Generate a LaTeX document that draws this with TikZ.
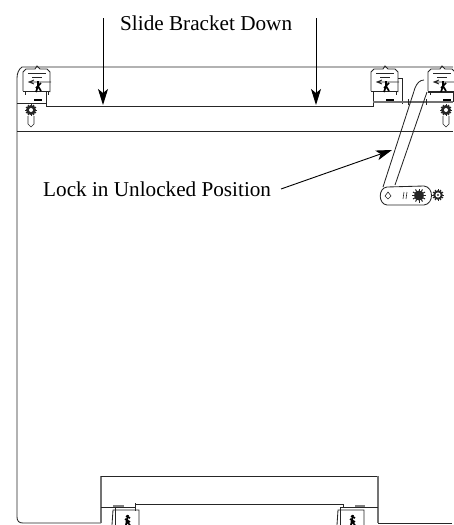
\documentclass[tikz,border=0pt]{standalone}
\usepackage{fontspec}
\setmainfont{Liberation Serif}
\usetikzlibrary{arrows.meta,shapes.geometric}
\tikzset{
  ln/.style={line width=0.85pt,draw=black!85},
  thin ln/.style={line width=0.6pt,draw=black!85},
  grey ln/.style={line width=1.1pt,draw=black!55},
  call/.style={line width=0.9pt,-{Stealth[length=16pt,width=10pt,inset=4pt]}},
  lab/.style={font=\fontsize{21.2pt}{24pt}\selectfont,inner sep=0pt,anchor=west},
  gear/.style={line width=1pt,draw=black!85},
  latch/.pic={
    \draw[ln] (-14,12) -- (-14,-7) -- (-11,-10) -- (-2,-10) -- (0,-13) -- (3,-10) -- (10,-10) -- (13,-7) -- (13,13);
    \draw[ln] (-14,12) -- (13,12);
    \draw[thin ln] (-9,-6) -- (9,-6) (-5,-2) -- (5,-2);
    \draw[ln] (-9,3) -- (14,3) (-3,1) -- (-8,3) -- (-3,5);
    \draw[line width=1.7pt] (1,2) -- (1,7) -- (-1,13) (1,7) -- (4,12) (4,4) -- (-1,9);
    \draw[thin ln] (-12,12) -- (-12,16) (11,12) -- (11,16);
  },
  bolt/.pic={
    \foreach \a in {0,30,...,330} \draw[line width=1pt,black!85] (0,0) -- (\a:5.8);
    \fill[black!85] (0,0) circle (5);
    \fill[white] (0,0) circle (2);
    \draw[thin ln] (-3,6) -- (-3,14) -- (0,17) -- (3,14) -- (3,6);
  },
  blatch/.pic={
    \draw[ln] (-14,15) -- (-13,0) -- (13,0) -- (13,15);
    \draw[ln] (-11,15) -- (-11,-3) -- (-2,-3);
    \draw[line width=1.7pt] (0,15) -- (2,5) (-1,9) -- (4,12) (0,11) -- (4,15) (0,6) -- (4,8);
  }
}
\begin{document}
\begin{tikzpicture}[x=1pt,y=-1pt]
\useasboundingbox (0,0) rectangle (453,525);
% frame
\coordinate (tl) at (22,67); \coordinate (tr) at (453,67);
\draw[ln] (tr) -- (tl) .. controls (19,69) and (17,73) .. (17,78) -- (17,517) .. controls (17,521) and (19,523) .. (23,523) -- (101,523);
\draw[grey ln] (101,476) -- (101,523);
\draw[ln] (101,476) -- (378,476);
\draw[grey ln] (378,476) -- (378,523);
\draw[ln] (378,523) -- (452,523);
\draw[ln] (17,131) -- (453,131);
% slide bracket
\draw[ln] (17,103) -- (46,103);
\draw[ln] (46,92) -- (46,106) -- (373,106) -- (373,92);
\draw[ln] (398,78) -- (402,78) -- (402,104);
\draw[grey ln] (373,102) -- (453,102);
% latches
\pic at (37,79) {latch};
\pic at (385,79) {latch};
\pic at (442,79) {latch};
\pic at (31,110) {bolt};
\pic at (446,110) {bolt};
\draw[line width=2pt,black!60] (408,102) -- (426,102);
\draw[ln] (408,99) -- (408,105) (426,99) -- (426,105);
\draw[ln] (428,92) -- (453,92) (453,92) -- (453,102);
\draw[line width=1.5pt] (34,100) -- (42,100) (386,100) -- (394,100) (443,100) -- (451,100);
% bottom latches
\draw[ln] (101,507) -- (135,507) (135,503) -- (135,511);
\draw[ln] (135,504) -- (343,504) (343,504) -- (343,507) -- (378,507);
\draw[line width=2pt,black!50] (113,506) -- (124,506);
\draw[line width=2pt,black!50] (355,506) -- (365,506);
\pic at (126,510) {blatch};
\pic at (351,510) {blatch};
% lock arm
\draw[ln] (383,187) -- (415,88) .. controls (417,83) and (420,80) .. (424,80);
\draw[ln] (395,185) -- (427,92);
% link
\draw[ln] (387,187) -- (424,186) .. controls (434,187) and (434,204) .. (424,205) -- (387,205) .. controls (378,204) and (378,188) .. (387,187);
\draw[thin ln] (388,192) -- (391,196) -- (388,199) -- (385,196) -- cycle;
\draw[thin ln] (407,192) -- (406,199) (404,192) -- (403,199);
\foreach \a in {0,30,...,330} \draw[gear] (419,195.5) -- ++(\a:7);
\fill[black!85] (419,195.5) circle (5);
\foreach \a in {0,30,...,330} \draw[gear] (438,195) -- ++(\a:5.8);
\fill[black!85] (438,195) circle (4.8);
\fill[white] (438,195) circle (2.6);
\fill[black!80] (438,195) circle (1.1);
% arrows
\node[lab] (t1) at (120,23) {Slide Bracket Down};
\node[lab] (t2) at (43,189) {Lock in Unlocked Position};
\coordinate (a1s) at (103,18); \coordinate (a1e) at (103,105);
\coordinate (a2s) at (316,18); \coordinate (a2e) at (316,105);
\coordinate (a3s) at (281,189); \coordinate (a3e) at (392,150);
\draw[call] (a1s) -- (a1e);
\draw[call] (a2s) -- (a2e);
\draw[call] (a3s) -- (a3e);
\end{tikzpicture}
\end{document}
